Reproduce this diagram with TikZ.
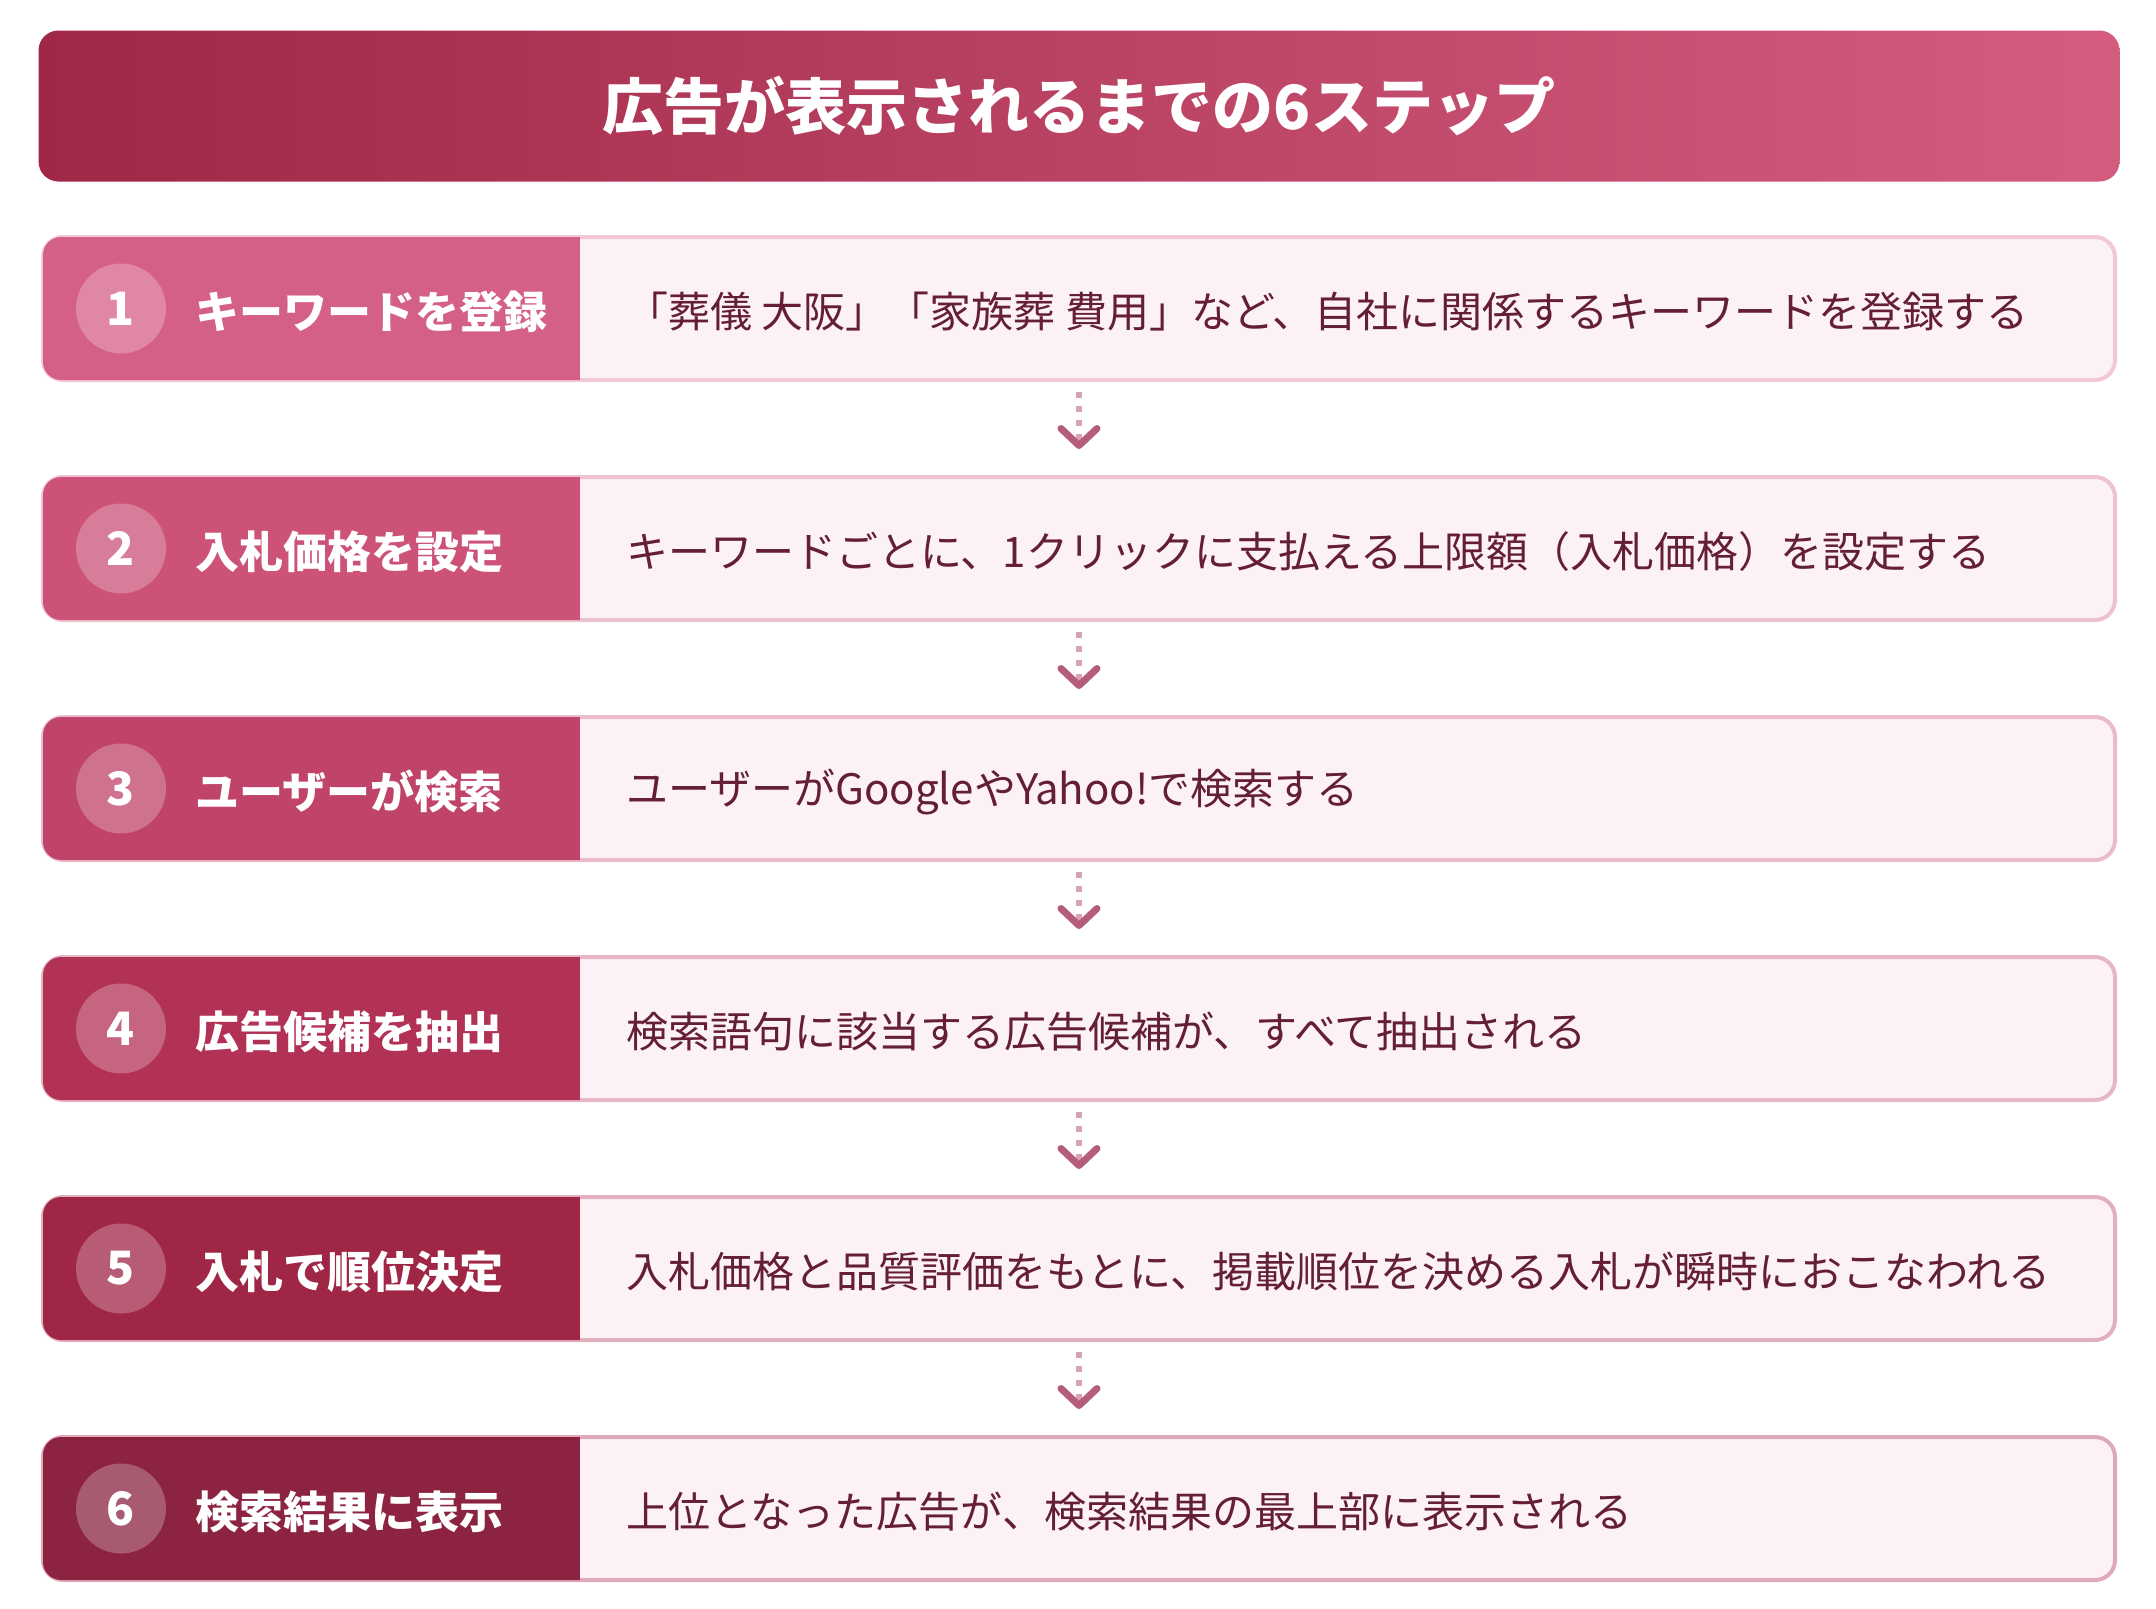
\documentclass[tikz,border=0pt]{standalone}
\usepackage{fontspec}
\setmainfont{Noto Sans CJK JP}
\usetikzlibrary{positioning,arrows.meta}
\definecolor{titleL}{RGB}{160,40,70}
\definecolor{titleR}{RGB}{212,92,127}
\definecolor{step1}{RGB}{213,96,133}
\definecolor{step2}{RGB}{204,82,120}
\definecolor{step3}{RGB}{192,68,105}
\definecolor{step4}{RGB}{178,50,86}
\definecolor{step5}{RGB}{160,38,70}
\definecolor{step6}{RGB}{140,35,65}
\definecolor{border1}{RGB}{241,201,213}
\definecolor{border2}{RGB}{237,194,207}
\definecolor{border3}{RGB}{234,188,202}
\definecolor{border4}{RGB}{230,182,197}
\definecolor{border5}{RGB}{226,175,190}
\definecolor{border6}{RGB}{222,169,185}
\definecolor{rowfill}{RGB}{252,242,245}
\definecolor{desctext}{RGB}{100,30,55}
\definecolor{dotpink}{RGB}{216,162,182}
\definecolor{chevron}{RGB}{182,92,124}

\begin{document}
\begin{tikzpicture}[x=1pt,y=-1pt]
\useasboundingbox (0,0) rectangle (2156,1609);
\node[rounded corners=20pt, left color=titleL, right color=titleR, minimum width=2081pt, minimum height=151pt, text=white, font=\bfseries\fontsize{61}{70}\selectfont] (title) at (1079,106) {\raisebox{-3pt}{広告が表示されるまでの6ステップ}};

\foreach \i/\lab/\desc in {1/キーワードを登録/{「葬儀 大阪」「家族葬 費用」など、自社に関係するキーワードを登録する},
  2/入札価格を設定/{キーワードごとに、1クリックに支払える上限額（入札価格）を設定する},
  3/ユーザーが検索/{ユーザーがGoogleやYahoo!で検索する},
  4/広告候補を抽出/{検索語句に該当する広告候補が、すべて抽出される},
  5/入札で順位決定/{入札価格と品質評価をもとに、掲載順位を決める入札が瞬時におこなわれる},
  6/検索結果に表示/{上位となった広告が、検索結果の最上部に表示される}} {
  \pgfmathsetmacro\yc{308.5+240*(\i-1)}
  \node[draw=border\i, line width=4pt, fill=rowfill, rounded corners=20pt, minimum width=2072pt, minimum height=143pt] (row\i) at (1079,\yc) {};
  \begin{scope}
  \clip[rounded corners=18pt] ([shift={(2,2)}]row\i.north west) rectangle ([shift={(-2,-2)}]row\i.south east);
  \fill[step\i] (row\i.north west) rectangle (580,\yc+80);
  \end{scope}
  \node[circle, fill=white, fill opacity=.25, text opacity=1, minimum size=90pt, inner sep=0, text=white, font=\bfseries\fontsize{46}{50}\selectfont] (num\i) at (121,\yc) {\i};
  \node[right=29pt of num\i, yshift=-3pt, inner sep=0, text=white, font=\bfseries\fontsize{44}{50}\selectfont] (lab\i) {\lab};
  \node[anchor=west, yshift=-3pt, inner sep=0, text=desctext, font=\fontsize{42}{50}\selectfont] (desc\i) at (626,\yc) {\desc};
}

\foreach \i [count=\j from 2] in {1,...,5} {
  \draw[dotpink, line width=6pt, dash pattern=on 6pt off 8pt, shorten <=10pt, shorten >=26pt, -{Straight Barb[length=17pt, width=36pt, line width=7pt, round, color=chevron]}] (row\i) -- (row\j);
}
\end{tikzpicture}
\end{document}
